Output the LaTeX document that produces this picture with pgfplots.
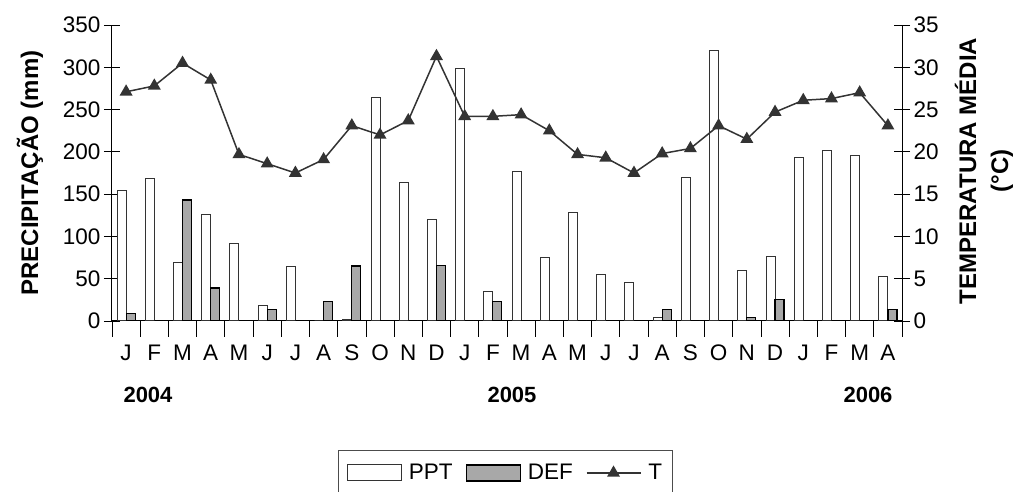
\documentclass[border=0pt]{standalone}
\usepackage{pgfplots}
\usepackage{pgfplotstable}
\pgfplotsset{compat=1.18}
\usepackage{fontspec}
\setmainfont{Liberation Sans}

\definecolor{linegray}{RGB}{51,51,51}
\definecolor{defgray}{RGB}{168,168,168}

\pgfplotsset{
  boxlegend/.style={legend image code/.code={\draw[##1] (0pt,-8pt) rectangle (54pt,8pt);}},
  trilegend/.style={legend image code/.code={\draw[##1, mark repeat=2, mark phase=2] plot coordinates {(0pt,0pt) (27pt,0pt) (54pt,0pt)};}},
}

% x = month index (J 2004 = 0 ... A 2006 = 27)
\pgfplotstableread{
x ppt def t
0 154 9 27.1
1 168 0 27.8
2 69 143 30.5
3 126.5 39 28.5
4 92 0 19.7
5 18.5 14 18.6
6 65 0 17.5
7 0 23 19.1
8 2 65 23.1
9 264.5 0 22.0
10 163.5 0 23.7
11 119.5 66 31.3
12 299 0 24.2
13 34.5 23 24.2
14 176.5 0 24.4
15 75.5 0 22.5
16 128.5 0 19.7
17 55 0 19.3
18 45.5 0 17.5
19 4.5 13.5 19.8
20 170 0 20.4
21 320 0 23.1
22 59.5 4.5 21.5
23 76 25 24.7
24 193 0 26.1
25 202 0 26.3
26 195.5 0 27.0
27 52.5 13.5 23.1
}\data

\begin{document}
\begin{tikzpicture}[font=\fontsize{22.5}{26}\selectfont]
\pgfplotsset{
  every axis/.append style={
    scale only axis, width=790pt, height=296pt,
    xmin=-0.5, xmax=27.5,
    tick align=center, major tick length=16pt, minor tick length=16pt,
    tick style={black, line width=0.8pt},
    axis line style={black, line width=1pt},
    /pgf/number format/assume math mode=true,
  }
}
\begin{axis}[
    ymin=0, ymax=350,
    axis x line*=bottom, axis y line*=left,
    ybar=0pt, bar width=9pt,
    xtick={0,...,27},
    xticklabels={J,F,M,A,M,J,J,A,S,O,N,D,J,F,M,A,M,J,J,A,S,O,N,D,J,F,M,A},
    major x tick style={draw=none},
    minor xtick={-0.5,0.5,...,27.5},
    ytick={0,50,...,350},
    xticklabel style={yshift=-4pt},
]
\addplot[draw=black!80, fill=white, line width=1pt] table[x=x, y=ppt]{\data};
\addplot[draw=black, fill=defgray, line width=1.2pt] table[x=x, y=def]{\data};
\end{axis}
\begin{axis}[
    ymin=0, ymax=35,
    axis y line*=right, axis x line=none,
    ytick={0,5,...,35},
    legend columns=3,
    legend style={at={(0.498,-0.436)}, anchor=north,
      draw=black!70, line width=0.8pt, inner xsep=8pt, inner ysep=12pt,
      /tikz/every odd column/.append style={column sep=5pt},
      /tikz/every even column/.append style={column sep=11pt},
      font=\fontsize{22.5}{26}\selectfont},
]
\addlegendimage{draw=black!80, fill=white, line width=1pt, boxlegend}
\addlegendentry{PPT}
\addlegendimage{draw=black, fill=defgray, line width=1.2pt, boxlegend}
\addlegendentry{DEF}
\addplot[linegray, line width=1.5pt, mark=triangle*, mark size=6pt,
  mark options={fill=linegray, solid}, trilegend]
  table[x=x, y=t]{\data};
\addlegendentry{T}
\end{axis}
\node[rotate=90, font=\bfseries\fontsize{24}{28}\selectfont] at (-82pt,148pt) {PRECIPITAÇÃO (mm)};
\node[rotate=90, align=center, font=\bfseries\fontsize{24}{32}\selectfont] at (872pt,150pt) {TEMPERATURA MÉDIA\\(°C)};
\node[font=\bfseries\fontsize{22}{26}\selectfont] at (36pt,-74pt) {2004};
\node[font=\bfseries\fontsize{22}{26}\selectfont] at (400pt,-74pt) {2005};
\node[font=\bfseries\fontsize{22}{26}\selectfont] at (756pt,-74pt) {2006};
\pgfresetboundingbox
\path (-112pt,-171pt) rectangle (910pt,321pt);
\end{tikzpicture}
\end{document}
